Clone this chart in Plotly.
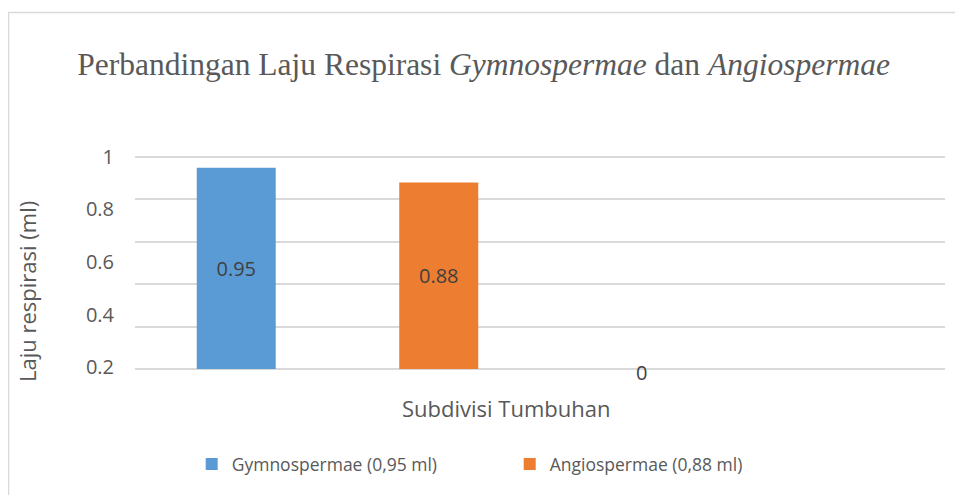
import plotly.graph_objects as go

# ---- data ----
slots = ["Gymnospermae", "Angiospermae", "Series3", "Series4"]
series_names = ["Gymnospermae (0,95 ml)", "Angiospermae (0,88 ml)", "Series3", "Series4"]
series_values = [0.95, 0.88, 0, None]
series_labels = ["0.95", "0.88", "0", ""]
series_in_legend = [True, True, False, False]
x_title = "Subdivisi Tumbuhan"
y_title = "Laju respirasi (ml)"
ytick_labels = ["1", "0.8", "0.6", "0.4", "0.2"]

colors = ["#5B9BD5", "#ED7D31", "#A5A5A5", "#FFC000"]
text_gray = "#595959"
label_gray = "#404040"
font_sans = "Open Sans, Liberation Sans, sans-serif"

# plot area in figure pixels (used only to place the free text)
PL, PT, PW, PH = 127, 147, 810, 216

fig = go.Figure()
label_annotations = []
for slot, name, val, lab, leg, col in zip(slots, series_names, series_values, series_labels,
                                           series_in_legend, colors):
    show_inside = (val or 0) > 0
    fig.add_trace(go.Bar(
        x=[slot], y=[val], name=name, marker_color=col, marker_line_width=0,
        width=0.39,
        text=[lab] if show_inside else None, texttemplate="%{text}" if show_inside else None,
        textposition="inside", insidetextanchor="middle",
        textfont=dict(family=font_sans, size=20, color=label_gray),
        showlegend=leg,
    ))
    if not show_inside and lab:
        # data label of the zero-height bar
        label_annotations.append(dict(
            x=slot, y=val, xref="x", yref="y", text=lab, showarrow=False,
            xanchor="center", yanchor="middle", yshift=-4,
            font=dict(family=font_sans, size=20, color=label_gray),
        ))

def px_x(p):
    return (p - PL) / PW

def px_y(p):
    return (PT + PH - p) / PH

fig.update_layout(
    width=955, height=487,
    margin=dict(l=PL, r=955 - PL - PW, t=PT, b=487 - PT - PH),
    paper_bgcolor="white", plot_bgcolor="white",
    barmode="overlay",
    title=dict(
        text="Perbandingan Laju Respirasi <i>Gymnospermae</i> dan <i>Angiospermae</i>",
        font=dict(family="Liberation Serif, Times New Roman, serif", size=31.5, color=text_gray),
        x=0.498, xanchor="center", xref="container", y=0.885, yanchor="middle", yref="container",
    ),
    legend=dict(
        orientation="h", x=0.07, xanchor="left", y=px_y(456), yanchor="middle",
        font=dict(family=font_sans, size=17.5, color=text_gray),
        itemwidth=30, traceorder="normal", entrywidth=273, entrywidthmode="pixels",
    ),
    xaxis=dict(
        type="category", categoryorder="array", categoryarray=slots, range=[-0.5, 3.5],
        showticklabels=False, showgrid=False, zeroline=False, showline=False,
    ),
    yaxis=dict(
        range=[-0.01, 1.01], tickvals=[0, 0.2, 0.4, 0.6, 0.8, 1.0], showticklabels=False,
        showgrid=True, gridcolor="#D9D9D9", gridwidth=1.5, zeroline=False, showline=False,
    ),
    yaxis2=dict(
        overlaying="y", side="left", range=[-0.01, 1.01],
        tickvals=[1.0, 0.756, 0.505, 0.255, 0.01], ticktext=ytick_labels,
        showgrid=False, zeroline=False, showline=False,
        ticks="outside", ticklen=16, tickcolor="rgba(0,0,0,0)",
        tickfont=dict(family=font_sans, size=20, color=text_gray),
    ),
    annotations=[
        dict(text=y_title, textangle=-90, xref="paper", yref="paper",
             x=px_x(19), y=px_y(284), xanchor="center", yanchor="middle", showarrow=False,
             font=dict(family=font_sans, size=22, color=text_gray)),
        dict(text=x_title, xref="paper", yref="paper",
             x=px_x(498), y=px_y(400), xanchor="center", yanchor="middle",
             showarrow=False, font=dict(family=font_sans, size=22, color=text_gray)),
    ] + label_annotations,
    shapes=[dict(
        type="rect", xref="paper", yref="paper",
        x0=px_x(0.5), x1=px_x(1000), y0=px_y(560), y1=px_y(4.5),
        line=dict(color="#D9D9D9", width=1.5), fillcolor="rgba(0,0,0,0)", layer="below",
    )],
)
# invisible trace to anchor the label axis
fig.add_trace(go.Scatter(x=[slots[0]], y=[None], yaxis="y2", showlegend=False, hoverinfo="skip"))

fig.write_html("out.html")
